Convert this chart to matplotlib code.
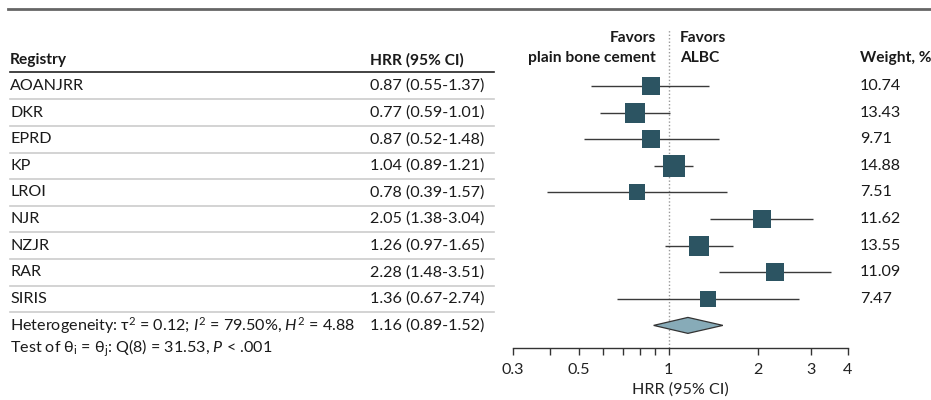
import matplotlib
matplotlib.use("Agg")
import matplotlib.pyplot as plt
import matplotlib.transforms as mtransforms
from matplotlib.patches import Polygon
import numpy as np

plt.rcParams['font.family'] = ['Lato', 'DejaVu Sans']
plt.rcParams['mathtext.fontset'] = 'custom'
plt.rcParams['mathtext.rm'] = 'Lato'
plt.rcParams['mathtext.it'] = 'Lato:italic'
plt.rcParams['mathtext.bf'] = 'Lato:bold'

registries = ["AOANJRR", "DKR", "EPRD", "KP", "LROI", "NJR", "NZJR", "RAR", "SIRIS"]
hrr = [0.87, 0.77, 0.87, 1.04, 0.78, 2.05, 1.26, 2.28, 1.36]
lower = [0.55, 0.59, 0.52, 0.89, 0.39, 1.38, 0.97, 1.48, 0.67]
upper = [1.37, 1.01, 1.48, 1.21, 1.57, 3.04, 1.65, 3.51, 2.74]
weights = [10.74, 13.43, 9.71, 14.88, 7.51, 11.62, 13.55, 11.09, 7.47]
pooled = (1.16, 0.89, 1.52)
xticks = [0.3, 0.5, 1, 2, 3, 4]
xticklabels = ["0.3", "0.5", "1", "2", "3", "4"]
minor_ticks = [0.4, 0.6, 0.7, 0.8, 0.9]

W, H = 931, 400
fig = plt.figure(figsize=(W / 100, H / 100), dpi=100)

# axes geometry in pixels (from top)
row0_px, row_step = 86.0, 26.6
ax_left_px, ax_right_px = 513, 848
ax_top_px, ax_bot_px = 30, 348
y_top = (ax_top_px - row0_px) / row_step
y_bot = (ax_bot_px - row0_px) / row_step

ax = fig.add_axes([ax_left_px / W, 1 - ax_bot_px / H,
                   (ax_right_px - ax_left_px) / W, (ax_bot_px - ax_top_px) / H])
ax.set_xscale('log')
ax.set_xlim(0.3, 4)
ax.set_ylim(y_bot, y_top)

sq_color = "#2c5462"
fs = 11.6
fsb = 11.2

for i in range(len(registries)):
    ax.plot([lower[i], upper[i]], [i, i], color="#3a3a3a", lw=1.0, zorder=2, solid_capstyle='butt')
    side_px = 5.5 * np.sqrt(weights[i])
    ms = side_px * 0.72
    ax.plot(hrr[i], i, marker='s', ms=ms, color=sq_color, mec=sq_color, mew=0, zorder=3, linestyle='none')

# pooled diamond
py = len(registries)
dh = 0.3
diamond = Polygon([[pooled[1], py], [pooled[0], py - dh], [pooled[2], py], [pooled[0], py + dh]],
                  closed=True, facecolor="#87abb8", edgecolor="#333333", lw=0.9, zorder=3)
ax.add_patch(diamond)

# null line
ax.axvline(1, ymin=0, ymax=1, color="#999999", lw=1.0, ls=(0, (1, 1.5)), zorder=1)

for s in ['top', 'right', 'left']:
    ax.spines[s].set_visible(False)
ax.spines['bottom'].set_color("#333333")
ax.spines['bottom'].set_linewidth(1.0)
ax.set_yticks([])
ax.set_xticks(xticks)
ax.set_xticklabels(xticklabels, fontsize=fs)
ax.set_xticks(minor_ticks, minor=True)
ax.xaxis.set_minor_formatter(matplotlib.ticker.NullFormatter())
ax.tick_params(axis='x', which='both', direction='out', length=5, width=1, color="#333333",
               pad=6, labelcolor="#222222")
ax.set_xlabel("HRR (95% CI)", fontsize=fs, color="#222222", labelpad=4)

# text columns: x in figure fraction, y in data
tr = mtransforms.blended_transform_factory(fig.transFigure, ax.transData)
txt_color = "#1a1a1a"
x_reg = 10 / W
x_hrr = 370 / W
x_w = 860 / W
x_line_end = 494 / W

def t(x, y, s, size=fs, **kw):
    ax.text(x, y, s, transform=tr, fontsize=size, va='center', color=txt_color, clip_on=False, **kw)

hdr_y = (60 - row0_px) / row_step
t(x_reg, hdr_y, "Registry", size=fsb, fontweight='bold', ha='left')
t(x_hrr, hdr_y, "HRR (95% CI)", size=fsb, fontweight='bold', ha='left')
t(x_w, (58 - row0_px) / row_step, "Weight, %", size=fsb, fontweight='bold', ha='left')

# favors labels
t(656 / W, (38 - row0_px) / row_step, "Favors", size=fsb, fontweight='bold', ha='right')
t(656 / W, (58 - row0_px) / row_step, "plain bone cement", size=fsb, fontweight='bold', ha='right')
t(680 / W, (38 - row0_px) / row_step, "Favors", size=fsb, fontweight='bold', ha='left')
t(680 / W, (58 - row0_px) / row_step, "ALBC", size=fsb, fontweight='bold', ha='left')

# header underline
ax.plot([x_reg, x_line_end], [(72 - row0_px) / row_step] * 2, transform=tr, color="#222222", lw=1.2, clip_on=False)

for i, name in enumerate(registries):
    t(x_reg, i, name, ha='left')
    t(x_hrr, i, f"{hrr[i]:.2f} ({lower[i]:.2f}-{upper[i]:.2f})", ha='left')
    t(x_w, i, f"{weights[i]:.2f}", ha='left')
    ax.plot([x_reg, x_line_end], [i + 0.5] * 2, transform=tr, color="#cccccc", lw=1.2, clip_on=False)

t(x_reg, py, r"Heterogeneity: $\mathrm{\tau}^{2}$ = 0.12; $I^{2}$ = 79.50%, $H^{2}$ = 4.88", ha='left')
t(x_hrr, py, f"{pooled[0]:.2f} ({pooled[1]:.2f}-{pooled[2]:.2f})", ha='left')
t(x_reg, (348 - row0_px) / row_step, r"Test of $\mathrm{\theta_i}$ = $\mathrm{\theta_j}$: Q(8) = 31.53, $P$ < .001", ha='left')

# top rule
fig.add_artist(plt.Line2D([8 / W, 1], [1 - 9 / H] * 2, transform=fig.transFigure, color="#666666", lw=2))

fig.savefig("out.png", dpi=100)
